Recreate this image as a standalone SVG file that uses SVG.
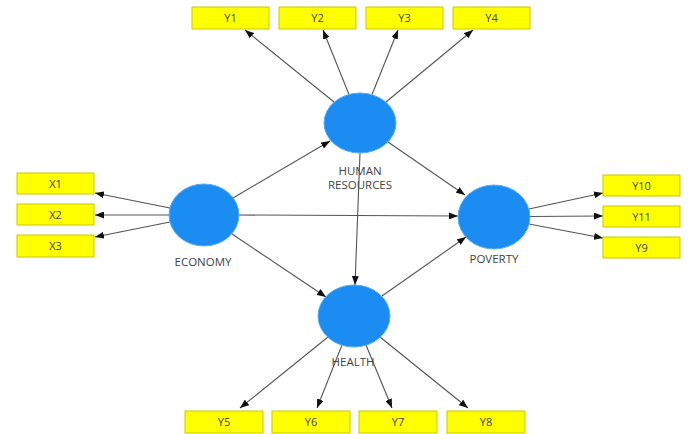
<svg xmlns="http://www.w3.org/2000/svg" width="688" height="434" viewBox="0 0 688 434">
<defs>
<marker id="ah" viewBox="0 0 9 7" refX="9" refY="3.5" markerWidth="9" markerHeight="7" markerUnits="userSpaceOnUse" orient="auto">
<path d="M0,0 L9,3.5 L0,7 z" fill="#111"/>
</marker>
</defs>
<style>
.box{fill:#ffff00;stroke:#c9c900;stroke-width:1}
.lv{fill:#1b8cf2;stroke:#5aaef5;stroke-width:1}
.bt{font-family:"Open Sans","Liberation Sans",sans-serif;font-size:11px;fill:#444;text-anchor:middle}
.lt{font-family:"Open Sans","Liberation Sans",sans-serif;font-size:11.5px;fill:#444;text-anchor:middle}
.cn line{stroke:#555;stroke-width:1.1;marker-end:url(#ah)}
</style>
<rect width="688" height="434" fill="#fff"/>
<g id="connectors" class="cn">
<line x1="334" y1="102" x2="245" y2="30"/>
<line x1="349" y1="94.5" x2="323" y2="30"/>
<line x1="372" y1="94.5" x2="398" y2="30"/>
<line x1="386" y1="102" x2="473" y2="30"/>
<line x1="170" y1="208" x2="95" y2="193"/>
<line x1="169" y1="215" x2="95" y2="215"/>
<line x1="170" y1="222" x2="95" y2="237"/>
<line x1="529" y1="209" x2="603" y2="193"/>
<line x1="530" y1="216.5" x2="603" y2="216"/>
<line x1="529" y1="224" x2="603" y2="238"/>
<line x1="328" y1="337" x2="240" y2="408"/>
<line x1="342" y1="345" x2="317" y2="408"/>
<line x1="366" y1="345" x2="392" y2="408"/>
<line x1="380" y1="337" x2="468" y2="408"/>
<line x1="233" y1="198" x2="330" y2="141"/>
<line x1="239" y1="215" x2="458" y2="216"/>
<line x1="232" y1="234" x2="326" y2="297"/>
<line x1="360" y1="153" x2="355" y2="285"/>
<line x1="388" y1="142" x2="465" y2="195"/>
<line x1="382" y1="296" x2="466" y2="237"/>
</g>
<g id="Y1"><rect class="box" x="192" y="7" width="77" height="22"/><text class="bt" x="230.5" y="22">Y1</text></g>
<g id="Y2"><rect class="box" x="279" y="7" width="77" height="22"/><text class="bt" x="317.5" y="22">Y2</text></g>
<g id="Y3"><rect class="box" x="366" y="7" width="77" height="22"/><text class="bt" x="404.5" y="22">Y3</text></g>
<g id="Y4"><rect class="box" x="453" y="7" width="77" height="22"/><text class="bt" x="491.5" y="22">Y4</text></g>
<g id="X1"><rect class="box" x="17" y="173" width="77" height="21"/><text class="bt" x="55.5" y="187.5">X1</text></g>
<g id="X2"><rect class="box" x="17" y="204" width="77" height="21"/><text class="bt" x="55.5" y="218.5">X2</text></g>
<g id="X3"><rect class="box" x="17" y="235" width="77" height="22"/><text class="bt" x="55.5" y="250">X3</text></g>
<g id="Y10"><rect class="box" x="603" y="175" width="77" height="21"/><text class="bt" x="641.5" y="189.5">Y10</text></g>
<g id="Y11"><rect class="box" x="603" y="206" width="77" height="21"/><text class="bt" x="641.5" y="220.5">Y11</text></g>
<g id="Y9"><rect class="box" x="603" y="237" width="77" height="21"/><text class="bt" x="641.5" y="251.5">Y9</text></g>
<g id="Y5"><rect class="box" x="185" y="411" width="78" height="22"/><text class="bt" x="224" y="426">Y5</text></g>
<g id="Y6"><rect class="box" x="272" y="411" width="78" height="22"/><text class="bt" x="311" y="426">Y6</text></g>
<g id="Y7"><rect class="box" x="359" y="411" width="78" height="22"/><text class="bt" x="398" y="426">Y7</text></g>
<g id="Y8"><rect class="box" x="447" y="411" width="78" height="22"/><text class="bt" x="486" y="426">Y8</text></g>
<g id="ECONOMY"><ellipse class="lv" cx="204" cy="215" rx="35" ry="31"/><text class="lt" x="203" y="266">ECONOMY</text></g>
<g id="HUMAN_RESOURCES"><ellipse class="lv" cx="360" cy="123" rx="36" ry="30"/><text class="lt" x="360" y="175">HUMAN</text><text class="lt" x="360" y="189">RESOURCES</text></g>
<g id="POVERTY"><ellipse class="lv" cx="494" cy="217" rx="36" ry="32"/><text class="lt" x="494" y="263">POVERTY</text></g>
<g id="HEALTH"><ellipse class="lv" cx="354" cy="316" rx="36" ry="31"/><text class="lt" x="353" y="366">HEALTH</text></g>
</svg>
